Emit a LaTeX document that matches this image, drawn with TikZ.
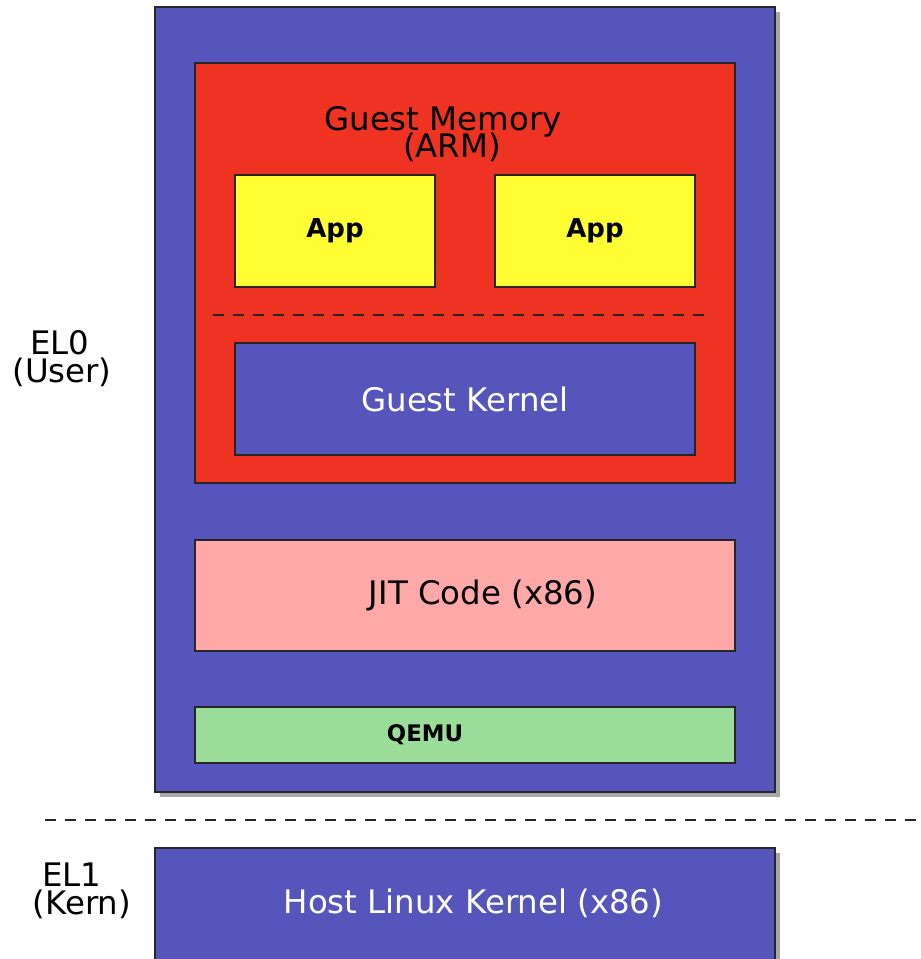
\documentclass[tikz,border=0pt]{standalone}
\usepackage{fontspec}
\setmainfont{DejaVu Sans}
\usetikzlibrary{shadows,calc}
\definecolor{qblue}{RGB}{85,85,187}
\definecolor{qred}{RGB}{238,51,34}
\definecolor{qyellow}{RGB}{255,255,51}
\definecolor{qpink}{RGB}{255,168,168}
\definecolor{qgreen}{RGB}{153,221,153}
\tikzset{
  box/.style={draw=black!85,line width=1pt,rectangle,inner sep=0pt},
  shadowed/.style={drop shadow={shadow xshift=2.5pt,shadow yshift=-2.5pt,fill=black,opacity=0.35}},
  txt/.style={font=\fontsize{16.2}{14}\selectfont,inner sep=0pt},
  wtxt/.style={txt,text=white},
  app/.style={font=\bfseries\fontsize{13}{14}\selectfont,inner sep=0pt},
  sep/.style={line width=1pt,draw=black!85,dash pattern=on 5.5pt off 4.5pt},
}
\begin{document}
\begin{tikzpicture}[x=0.5pt,y=-0.5pt]
\useasboundingbox (0,0) rectangle (921,959);
% user space (EL0)
\node[box,shadowed,fill=qblue,minimum width=310pt,minimum height=392.5pt] (user) at (465,399.5) {};
\node[box,fill=qred,minimum width=270pt,minimum height=210pt] (mem) at (465,273) {};
\node[txt,anchor=base] (memlbl) at (443,130) {Guest Memory};
\node[txt,anchor=base] (armlbl) at (452,157) {(ARM)};
\node[box,fill=qyellow,minimum width=100pt,minimum height=56pt,label={[app]center:App}] (app1) at (335,231) {};
\node[box,fill=qyellow,minimum width=100pt,minimum height=56pt,label={[app]center:App}] (app2) at (595,231) {};
\coordinate (d1) at (213,315);
\coordinate (d2) at (707,315);
\draw[sep] (d1) -- (d2);
\node[box,fill=qblue,minimum width=230pt,minimum height=56pt,label={[wtxt]center:Guest Kernel}] (gkern) at (465,399) {};
\node[box,fill=qpink,minimum width=270pt,minimum height=55.5pt,label={[txt,xshift=9pt]center:JIT Code (x86)}] (jit) at (465,595.5) {};
\node[box,fill=qgreen,minimum width=270pt,minimum height=28pt,label={[font=\bfseries\fontsize{11.4}{12}\selectfont,inner sep=0pt,xshift=-20pt]center:QEMU}] (qemu) at (465,735) {};
% kernel (EL1)
\coordinate (e1) at (45,820);
\coordinate (e2) at (921,820);
\draw[sep] (e1) -- (e2);
\node[box,shadowed,fill=qblue,minimum width=310pt,minimum height=57pt,label={[wtxt,xshift=4.25pt,yshift=1pt]center:Host Linux Kernel (x86)}] (host) at (465,905) {};
\node[txt,anchor=base] (el0) at (60,354) {EL0};
\node[txt,anchor=base] (user lbl) at (62,382) {(User)};
\node[txt,anchor=base] (el1) at (72,886) {EL1};
\node[txt,anchor=base] (kern lbl) at (82,914) {(Kern)};
\end{tikzpicture}
\end{document}
